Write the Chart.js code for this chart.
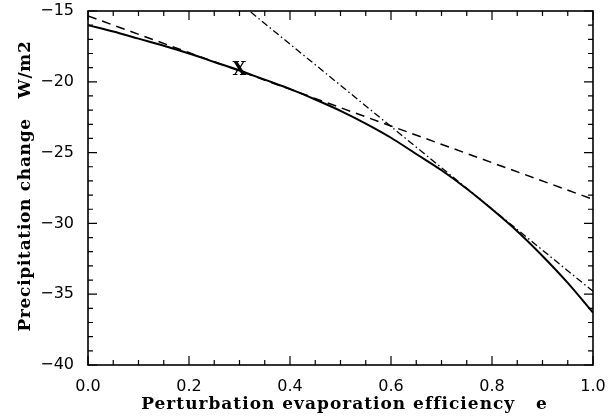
<!DOCTYPE html>
<html><head><meta charset="utf-8">
<script src="https://cdn.jsdelivr.net/npm/chart.js@4"></script>
<style>html,body{margin:0;padding:0;background:#fff}</style>
</head><body>
<canvas id="c" width="608" height="419"></canvas>
<script>
// ---- data ----
const eValues     = [0, 0.05, 0.10, 0.15, 0.20, 0.25, 0.30, 0.35, 0.40, 0.45, 0.50, 0.55, 0.60, 0.65, 0.70, 0.75, 0.80, 0.85, 0.90, 0.95, 1.00];
const solidValues = [-16.0, -16.45, -16.95, -17.45, -18.0, -18.6, -19.2, -19.85, -20.5, -21.25, -22.05, -22.95, -23.95, -25.1, -26.25, -27.55, -29.0, -30.55, -32.3, -34.2, -36.3];
const dashedE      = [0, 1];
const dashedValues = [-15.35, -28.3];
const dashDotE      = [0.3, 1];
const dashDotValues = [-14.43, -34.8];
const markerE = [0.3];
const markerValues = [-19.2];
const markerText = 'X';
const xTickValues = [0, 0.2, 0.4, 0.6, 0.8, 1.0];
const xTickLabels = ['0.0', '0.2', '0.4', '0.6', '0.8', '1.0'];
const yTickValues = [-40, -35, -30, -25, -20, -15];
const yTickLabels = ['\u221240', '\u221235', '\u221230', '\u221225', '\u221220', '\u221215'];
const xTitle = 'Perturbation evaporation efficiency   e';
const yTitle = 'Precipitation change   W/m2';

const toPts = (xs, ys) => xs.map((x, i) => ({x: x, y: ys[i]}));

const framePlugin = {
  id: 'frameTicks',
  afterDatasetsDraw(chart) {
    const {ctx, chartArea: a, scales: {x, y}} = chart;
    ctx.save();
    ctx.strokeStyle = '#000';
    ctx.lineWidth = 1.6;
    ctx.strokeRect(a.left, a.top, a.right - a.left, a.bottom - a.top);
    ctx.lineWidth = 1.2;
    ctx.beginPath();
    for (let i = 0; i <= 20; i++) {
      const v = i * 0.05;
      const px = x.getPixelForValue(v);
      const len = (i % 4 === 0) ? 9 : 5;
      ctx.moveTo(px, a.bottom); ctx.lineTo(px, a.bottom - len);
      ctx.moveTo(px, a.top); ctx.lineTo(px, a.top + len);
    }
    for (let v = -40; v <= -15; v++) {
      const py = y.getPixelForValue(v);
      const len = (v % 5 === 0) ? 9 : 5;
      ctx.moveTo(a.left, py); ctx.lineTo(a.left + len, py);
      ctx.moveTo(a.right, py); ctx.lineTo(a.right - len, py);
    }
    ctx.stroke();
    // X marker
    ctx.fillStyle = '#000';
    ctx.font = 'bold 18px "DejaVu Serif"';
    ctx.textAlign = 'center';
    ctx.textBaseline = 'middle';
    markerE.forEach((e, i) => {
      ctx.fillText(markerText, x.getPixelForValue(e), y.getPixelForValue(markerValues[i]));
    });
    // axis titles
    ctx.font = 'bold 17px "DejaVu Serif"';
    ctx.letterSpacing = '1px';
    ctx.textBaseline = 'middle';
    ctx.fillText(xTitle, (a.left + a.right) / 2 + 4, 405);
    ctx.letterSpacing = '0.7px';
    ctx.translate(26, (a.top + a.bottom) / 2 - 2);
    ctx.rotate(-Math.PI / 2);
    ctx.fillText(yTitle, 0, 0);
    ctx.restore();
  }
};

new Chart(document.getElementById('c'), {
  type: 'scatter',
  data: {
    datasets: [
      { data: toPts(eValues, solidValues), showLine: true, borderColor: '#000', borderWidth: 2,
        pointRadius: 0, cubicInterpolationMode: 'monotone', fill: false },
      { data: toPts(dashedE, dashedValues), showLine: true, borderColor: '#000', borderWidth: 1.5,
        borderDash: [9, 6], pointRadius: 0, fill: false },
      { data: toPts(dashDotE, dashDotValues), showLine: true, borderColor: '#000', borderWidth: 1.3,
        borderDash: [7, 3, 1.5, 3], pointRadius: 0, fill: false }
    ]
  },
  options: {
    responsive: false,
    animation: false,
    events: [],
    layout: { padding: { left: 8, right: 15, top: 11, bottom: 4 } },
    plugins: { legend: { display: false }, tooltip: { enabled: false } },
    scales: {
      x: {
        type: 'linear', min: 0, max: 1,
        afterBuildTicks: (s) => { s.ticks = xTickValues.map(v => ({value: v})); },
        afterFit: (s) => { s.height = 50; s.paddingLeft = 0; s.paddingRight = 0; },
        grid: { display: false },
        border: { display: false },
        ticks: { color: '#000', padding: 4, font: { family: 'DejaVu Sans', size: 16 },
                 maxRotation: 0, callback: (v, i) => xTickLabels[i] },
        title: { display: false }
      },
      y: {
        type: 'linear', min: -40, max: -15,
        afterBuildTicks: (s) => { s.ticks = yTickValues.map(v => ({value: v})); },
        afterFit: (s) => { s.width = 80; s.paddingTop = 0; s.paddingBottom = 0; },
        grid: { display: false },
        border: { display: false },
        ticks: { color: '#000', padding: 6, font: { family: 'DejaVu Sans', size: 16 },
                 callback: (v, i) => yTickLabels[i] },
        title: { display: false }
      }
    }
  },
  plugins: [framePlugin]
});
</script>
</body></html>
